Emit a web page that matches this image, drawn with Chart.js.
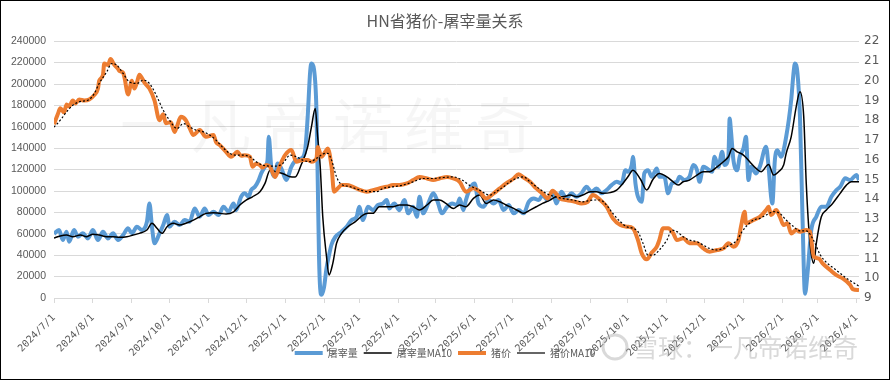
<!DOCTYPE html>
<html><head><meta charset="utf-8">
<script src="https://cdn.jsdelivr.net/npm/chart.js@4.4.1/dist/chart.umd.min.js"></script>
<style>
html,body{margin:0;padding:0;background:#fff;}
#wrap{width:890px;height:380px;box-sizing:border-box;border:1px solid #000;background:#fff;}
canvas{display:block;}
</style></head><body>
<div id="wrap"><canvas id="c" width="888" height="378"></canvas></div>
<script>
// x values: days since 2024/7/1
const tickLabels = ['2024/7/1','2024/8/1','2024/9/1','2024/10/1','2024/11/1','2024/12/1','2025/1/1','2025/2/1','2025/3/1','2025/4/1','2025/5/1','2025/6/1','2025/7/1','2025/8/1','2025/9/1','2025/10/1','2025/11/1','2025/12/1','2026/1/1','2026/2/1','2026/3/1','2026/4/1'];
const seriesNames = ['屠宰量','屠宰量MA10','猪价','猪价MA10'];

// 屠宰量 [day, head]
const slaughter = [[0,60000],[4,63500],[7,54200],[10,61900],[12,52600],[16,63500],[19,57300],[23,60400],[27,55700],[31,63500],[35,54200],[39,61900],[43,55700],[47,60400],[51,54200],[55,58800],[59,65100],[62,60400],[66,66600],[70,63500],[74,71300],[76,88400],[78,66600],[80,51100],[84,60400],[87,68200],[90,77500],[92,66600],[96,71300],[100,68200],[104,72800],[108,71300],[112,83700],[116,75900],[120,83700],[123,77500],[127,80600],[131,77500],[135,85300],[139,80600],[143,88400],[145,82100],[149,94600],[152,97800],[155,94600],[157,100900],[160,103900],[163,110200],[165,116400],[168,122600],[170,128800],[171,150600],[173,122600],[176,113300],[178,125800],[181,121100],[185,110200],[189,122600],[193,128900],[197,130500],[200,138200],[202,169300],[204,212000],[205,219200],[207,214000],[209,175000],[210,110000],[211,40000],[212,8000],[213,3000],[215,10000],[217,28000],[219,40000],[221,50000],[224,57000],[229,62000],[233,66600],[237,72800],[241,75900],[243,85300],[246,72800],[250,85300],[254,82100],[258,86900],[262,88400],[265,91500],[267,83700],[271,88400],[275,82100],[279,91500],[282,79100],[286,85300],[289,75900],[291,94600],[294,79100],[298,88400],[302,97800],[305,91500],[309,79100],[313,85300],[317,88400],[321,86900],[323,93100],[326,82200],[328,91500],[332,103900],[335,107100],[338,88400],[342,85300],[346,91500],[350,88400],[354,91500],[358,82200],[362,86900],[366,79100],[370,82200],[374,79100],[378,89900],[382,93100],[386,91500],[389,96200],[393,91500],[397,99300],[400,88400],[404,99300],[408,93100],[412,97800],[416,94600],[420,97800],[424,103900],[428,99300],[432,102400],[436,97800],[440,100900],[444,105500],[448,108600],[452,107100],[455,119500],[457,117900],[460,124200],[461,132000],[463,107100],[465,94600],[468,89900],[470,116400],[473,119500],[476,113300],[480,121100],[482,113300],[486,113300],[489,97800],[492,107100],[496,108600],[498,113300],[502,110200],[506,113300],[509,124200],[512,119500],[514,108600],[517,122600],[520,121100],[524,118000],[526,132000],[529,122600],[532,136600],[534,124200],[537,132000],[538,167800],[539,156900],[541,128900],[544,119500],[546,132000],[549,139800],[551,150600],[553,110200],[555,122600],[559,116400],[562,122600],[567,141300],[569,122600],[571,94600],[572,88400],[574,128900],[576,138200],[579,132000],[583,150600],[587,184900],[589,212000],[590,219200],[592,210000],[594,169300],[596,75900],[598,4000],[600,23100],[603,63500],[607,75900],[611,85300],[615,85300],[619,94600],[623,100900],[626,103900],[630,111800],[634,110200],[637,113300],[639,114900],[641,110200]];

// 屠宰量MA10 [day, head]
const slaughterMA10 = [[0,56000],[5,58000],[10,58800],[15,57300],[21,58800],[26,57300],[31,59600],[36,58800],[42,57300],[47,57300],[52,56800],[58,57300],[63,58800],[68,60400],[74,63500],[78,69800],[82,65100],[86,60400],[90,66600],[95,69800],[100,68200],[105,69800],[111,72800],[116,75900],[121,79100],[127,79700],[132,79100],[137,78500],[143,80600],[148,86900],[153,91500],[158,94600],[164,99300],[168,107100],[172,119500],[177,118000],[182,116400],[188,113300],[192,113000],[197,125000],[202,141300],[205,160000],[208,177200],[210,150000],[212,122600],[214,75900],[217,38600],[219,21500],[222,32400],[225,51100],[229,60400],[234,66600],[240,71300],[246,77500],[250,79100],[254,79100],[259,85300],[265,85300],[270,85300],[275,86900],[281,86900],[286,85300],[291,82200],[297,86900],[302,91500],[307,91500],[312,88400],[318,83700],[323,86900],[328,85300],[334,93100],[339,96200],[344,88400],[350,91500],[355,89900],[360,86900],[366,83700],[371,80600],[374,79100],[379,82200],[384,85300],[389,88400],[395,91500],[400,94600],[405,94600],[411,96200],[416,94600],[421,96200],[427,99300],[432,99300],[437,97800],[443,98500],[448,100900],[453,107100],[457,113300],[461,119500],[467,111000],[472,101000],[477,111000],[482,116400],[488,113300],[493,108600],[497,105500],[501,108600],[506,110200],[512,114900],[517,118000],[522,118000],[528,122600],[533,127300],[537,132000],[540,139800],[544,136600],[549,133600],[554,127300],[559,121100],[563,118000],[569,124700],[573,114900],[577,118000],[581,124200],[583,135100],[587,150600],[591,178700],[594,192700],[597,169300],[599,107100],[602,51100],[605,32400],[607,51100],[611,75900],[615,82200],[620,88400],[626,97800],[631,105500],[635,108600],[641,108600]];

// 猪价 [day, 元/kg]
const price = [[0,17.8],[3,18.3],[5,18.6],[8,18.4],[10,18.8],[12,18.7],[15,19.0],[17,18.85],[20,19.05],[24,19.0],[28,19.05],[32,19.27],[35,19.6],[36,20.0],[39,20.3],[40,20.87],[43,20.8],[45,21.1],[48,20.8],[51,20.6],[52,20.5],[55,20.4],[56,20.2],[59,19.3],[62,20.0],[64,19.6],[66,19.9],[68,20.3],[72,19.9],[76,19.6],[80,19.0],[84,18.0],[87,18.3],[89,17.85],[93,17.9],[96,17.4],[98,17.7],[101,18.17],[105,18.0],[108,17.6],[111,17.25],[116,17.5],[121,17.16],[127,17.25],[129,16.9],[132,16.74],[137,16.4],[141,16.15],[144,16.3],[146,16.4],[149,16.2],[152,16.23],[156,16.15],[158,15.64],[161,15.8],[164,15.73],[166,15.6],[169,15.73],[172,15.64],[176,15.13],[180,15.73],[184,16.23],[189,16.49],[193,15.9],[198,15.98],[202,15.98],[205,15.9],[209,16.07],[210,16.65],[213,16.15],[216,16.4],[218,16.57],[221,15.64],[223,14.38],[226,14.55],[229,14.72],[233,14.72],[238,14.63],[244,14.46],[249,14.38],[254,14.46],[259,14.55],[265,14.63],[270,14.72],[275,14.72],[281,14.8],[286,14.97],[291,15.13],[297,15.05],[302,14.97],[307,15.05],[313,15.13],[318,15.05],[323,14.88],[328,14.38],[334,14.55],[339,14.38],[344,14.04],[350,14.29],[355,14.55],[360,14.8],[366,15.05],[370,15.27],[374,15.1],[379,14.88],[384,14.55],[389,14.29],[393,14.04],[397,14.43],[403,14.04],[408,13.96],[415,13.87],[420,13.79],[425,13.87],[429,14.21],[435,13.96],[440,13.62],[445,13.03],[451,12.69],[456,12.61],[461,12.53],[465,11.93],[468,11.26],[472,10.96],[476,11.3],[480,11.6],[482,11.93],[485,12.53],[489,12.53],[493,12.28],[496,11.93],[501,12.02],[506,11.77],[512,11.77],[517,11.51],[522,11.34],[528,11.43],[533,11.51],[537,11.77],[541,11.6],[545,11.93],[547,12.61],[550,13.37],[551,12.78],[557,12.95],[562,13.11],[567,13.45],[569,13.62],[571,13.2],[575,13.45],[578,13.11],[581,12.69],[584,12.78],[587,12.27],[591,12.44],[594,12.35],[599,12.44],[602,12.36],[605,11.09],[609,11.0],[612,10.75],[618,10.42],[623,10.16],[628,9.99],[634,9.66],[636,9.45],[641,9.4]];

// 猪价MA10 [day, 元/kg]
const priceMA10 = [[0,17.65],[5,18.0],[10,18.42],[15,18.76],[20,18.93],[28,19.05],[32,19.35],[36,19.86],[42,20.45],[46,20.87],[50,20.79],[55,20.37],[60,19.94],[66,19.86],[71,20.03],[76,19.86],[82,19.19],[87,18.5],[92,18.0],[98,17.58],[103,17.83],[108,17.66],[113,17.5],[119,17.41],[124,17.25],[129,16.99],[134,16.65],[140,16.32],[145,16.23],[151,16.23],[156,16.15],[161,15.9],[166,15.73],[172,15.68],[177,15.68],[182,15.8],[188,16.23],[193,16.15],[198,15.98],[204,15.9],[209,16.07],[216,16.32],[218,16.32],[221,15.98],[225,15.13],[228,14.8],[236,14.63],[244,14.46],[251,14.38],[257,14.38],[262,14.55],[270,14.63],[278,14.72],[286,14.88],[294,15.05],[302,15.05],[310,15.1],[318,15.13],[325,14.97],[331,14.7],[339,14.45],[347,14.21],[352,14.38],[358,14.63],[363,14.88],[368,15.05],[374,15.13],[379,14.88],[386,14.55],[392,14.29],[399,14.13],[405,14.04],[413,13.96],[421,13.87],[429,13.96],[435,13.96],[440,13.7],[445,13.28],[451,12.86],[456,12.61],[461,12.53],[465,12.36],[469,11.77],[473,11.17],[477,11.17],[482,11.43],[488,11.93],[492,12.44],[496,12.36],[501,12.1],[506,11.93],[512,11.85],[517,11.68],[522,11.51],[528,11.43],[533,11.51],[538,11.68],[544,11.93],[547,12.27],[551,12.61],[557,12.95],[562,13.03],[567,13.2],[573,13.37],[578,13.28],[583,12.95],[589,12.61],[594,12.4],[599,12.4],[605,11.9],[610,11.2],[615,10.8],[621,10.5],[626,10.25],[631,10.0],[636,9.8],[641,9.6]];

function dayOf(s){const [y,m,d]=s.split('/').map(Number);return Math.round((Date.UTC(y,m-1,d)-Date.UTC(2024,6,1))/86400000);}
const labelByDay = {};
tickLabels.forEach(s => { labelByDay[dayOf(s)] = s; });
const pts = arr => arr.map(p => ({x:p[0], y:p[1]}));

const GREY = '#595959';
const watermark = {
  id:'watermark',
  beforeDatasetsDraw(chart){
    const ctx = chart.ctx; ctx.save();
    ctx.font = '60px "Noto Sans CJK SC"';
    ctx.fillStyle = 'rgba(0,0,0,0.035)';
    ctx.textBaseline = 'middle';
    try { ctx.letterSpacing = '11px'; } catch(e){}
    ctx.fillText('一凡帝诺维奇', 119, 124);
    ctx.restore();
  },
  afterDraw(chart){
    const ctx = chart.ctx; ctx.save();
    ctx.font = '25px "Noto Sans CJK SC"';
    ctx.fillStyle = 'rgba(170,170,170,0.45)';
    ctx.textBaseline = 'middle';
    ctx.fillText('雪球：一凡帝诺维奇', 632, 346);
    ctx.strokeStyle = 'rgba(170,170,170,0.45)'; ctx.lineWidth = 3;
    ctx.beginPath(); ctx.arc(614, 346, 12, 0, Math.PI*2); ctx.stroke();
    ctx.restore();
  }
};
// lift the legend so it sits beside the rotated date labels, as in the original
const legendLift = {
  id:'legendLift',
  afterLayout(chart){ const l = chart.legend; if (l) { l.top -= 18; l.bottom -= 18; } }
};

new Chart(document.getElementById('c'), {
  type:'line',
  data:{ datasets:[
    {label:seriesNames[0], data:pts(slaughter), yAxisID:'y', borderColor:'#5B9BD5', backgroundColor:'#5B9BD5', borderWidth:4, order:4},
    {label:seriesNames[1], data:pts(slaughterMA10), yAxisID:'y', borderColor:'#000000', backgroundColor:'#000000', borderWidth:1.5, order:3},
    {label:seriesNames[2], data:pts(price), yAxisID:'y1', borderColor:'#ED7D31', backgroundColor:'#ED7D31', borderWidth:4, order:2},
    {label:seriesNames[3], data:pts(priceMA10), yAxisID:'y1', borderColor:'#000000', backgroundColor:'#000000', borderWidth:1.2, borderDash:[2,2], order:1}
  ]},
  options:{
    responsive:false, animation:false, devicePixelRatio:1,
    elements:{ point:{radius:0}, line:{cubicInterpolationMode:'monotone', borderCapStyle:'butt'} },
    layout:{ padding:{left:0, right:0, top:0, bottom:0} },
    plugins:{
      tooltip:{enabled:false},
      title:{ display:true, text:'HN省猪价-屠宰量关系', color:GREY,
        font:{family:'"Noto Sans CJK SC"', size:16, weight:'normal', lineHeight:1.2},
        padding:{top:10, bottom:11} },
      legend:{ position:'bottom', maxHeight:19,
        labels:{ usePointStyle:true, pointStyle:'line', pointStyleWidth:28, boxHeight:10, color:GREY, padding:6,
          sort:(a,b) => a.datasetIndex - b.datasetIndex,
          font:{family:'"Noto Sans CJK SC"', size:10} } }
    },
    scales:{
      x:{ type:'linear', min:0, max:641,
        afterFit(s){ s.height = 62; },
        afterBuildTicks(s){ s.ticks = tickLabels.map(t => ({value:dayOf(t)})); },
        border:{display:true, color:'#D9D9D9'},
        grid:{drawOnChartArea:false, drawTicks:true, tickLength:5, color:'#D9D9D9'},
        ticks:{ autoSkip:false, minRotation:45, maxRotation:45, padding:9, color:GREY,
          font:{family:'"DejaVu Sans Mono"', size:10},
          callback:(v) => labelByDay[v] } },
      y:{ position:'left', min:0, max:240000,
        afterFit(s){ s.width = 53; },
        border:{display:false},
        grid:{color:'#D9D9D9', drawTicks:false},
        ticks:{ stepSize:20000, padding:8, color:GREY, font:{family:'"Liberation Sans"', size:10.5},
          callback:(v) => String(v) } },
      y1:{ position:'right', min:9, max:22,
        afterFit(s){ s.width = 30; },
        border:{display:false},
        grid:{drawOnChartArea:false, drawTicks:false},
        ticks:{ stepSize:1, padding:5, color:GREY, font:{family:'"DejaVu Sans"', size:12},
          callback:(v) => String(v) } }
    }
  },
  plugins:[watermark, legendLift]
});
</script></body></html>
